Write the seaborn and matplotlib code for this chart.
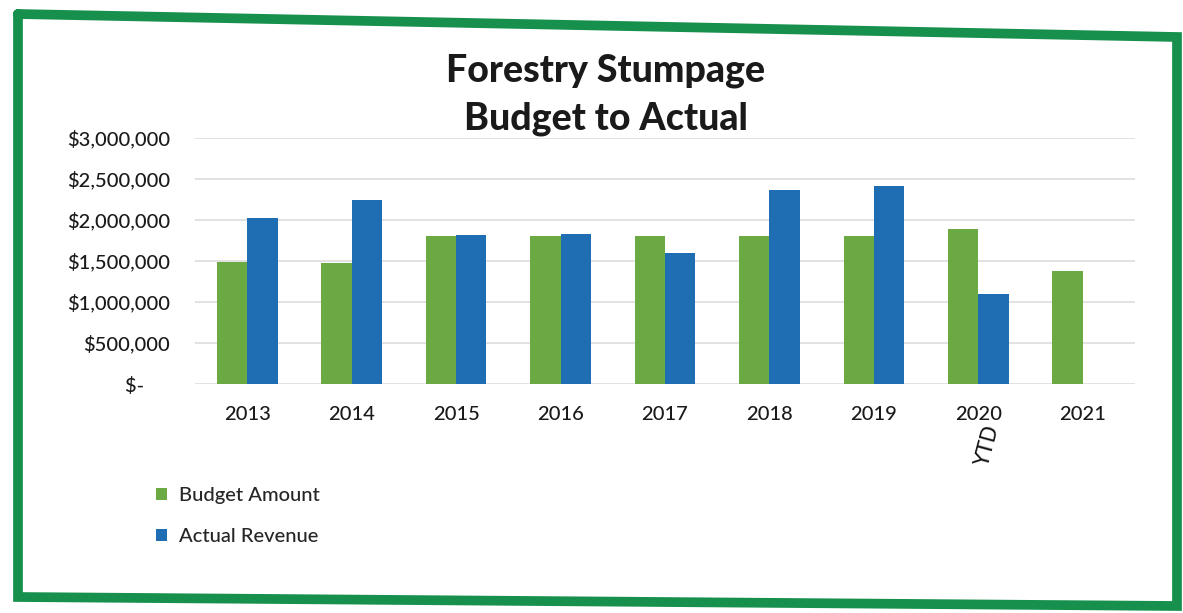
import matplotlib
matplotlib.use("Agg")
import matplotlib.pyplot as plt
from matplotlib.lines import Line2D
from matplotlib.patches import Patch
from matplotlib.ticker import FuncFormatter
import numpy as np
import pandas as pd
import seaborn as sns

# Forestry stumpage revenue, budget vs. actual (dollars)
years = ["2013", "2014", "2015", "2016", "2017", "2018", "2019", "2020", "2021"]
budget_amount = [1490000, 1470000, 1810000, 1810000, 1810000, 1810000, 1810000, 1890000, 1380000]
actual_revenue = [2020000, 2240000, 1820000, 1830000, 1600000, 2370000, 2410000, 1100000, np.nan]
series_names = ["Budget Amount", "Actual Revenue"]

GREEN = "#6BAA42"
BLUE = "#1F6EB4"
FRAME = "#16904C"

df = pd.DataFrame({
    "Year": years * 2,
    "Series": [series_names[0]] * len(years) + [series_names[1]] * len(years),
    "Amount": budget_amount + actual_revenue,
})

sns.set_theme(style="white")
plt.rcParams["font.family"] = ["Lato", "DejaVu Sans"]

W, H = 1183, 613
fig = plt.figure(figsize=(W / 100, H / 100), dpi=100)
fig.patch.set_facecolor("white")

ax = fig.add_axes([195 / W, 1 - 384 / H, (1135 - 195) / W, (384 - 138) / H])
sns.barplot(data=df, x="Year", y="Amount", hue="Series", order=years,
            hue_order=series_names, palette=[GREEN, BLUE], width=0.58,
            saturation=1, linewidth=0, legend=False, ax=ax, zorder=3)

ax.set_ylim(0, 3000000)
ax.set_xlim(-0.5, len(years) - 0.5)
ax.set_yticks(np.arange(0, 3000001, 500000))
ax.yaxis.set_major_formatter(FuncFormatter(
    lambda v, _: "$-     " if v == 0 else f"${v:,.0f}"))
ax.grid(axis="y", color="#DADADA", linewidth=1.1, zorder=0)
ax.grid(axis="x", visible=False)
for s in ax.spines.values():
    s.set_visible(False)
ax.tick_params(axis="both", length=0, labelsize=14.5, colors="#1a1a1a")
ax.tick_params(axis="y", pad=18)
ax.tick_params(axis="x", pad=16)
for lab in ax.get_xticklabels() + ax.get_yticklabels():
    lab.set_fontweight("medium")
ax.set_xlabel("")
ax.set_ylabel("")

# Title
title_kw = dict(ha="center", va="baseline", fontsize=27, fontweight="black",
                color="#1a1a1a")
fig.text(606 / W, 1 - 81 / H, "Forestry Stumpage", **title_kw)
fig.text(606 / W, 1 - 130 / H, "Budget to Actual", **title_kw)

# Legend below the plot area
handles = [Patch(facecolor=GREEN, edgecolor="none"),
           Patch(facecolor=BLUE, edgecolor="none")]
leg = fig.legend(handles, series_names, loc="upper left",
                 bbox_to_anchor=(138 / W, 1 - 469 / H), frameon=False,
                 fontsize=14.5, handlelength=0.55, handleheight=0.55,
                 handletextpad=0.6, labelspacing=1.2)
for t in leg.get_texts():
    t.set_fontweight("medium")

# Handwritten note under 2020
fig.text(988 / W, 1 - 446 / H, "YTD", rotation=75, ha="center", va="center",
         fontsize=15, color="#111111", family="DejaVu Sans")

# Green frame around the chart
frame_x = [18, 1177, 1177, 18, 18]
frame_y = [14, 37, 606, 597, 14]
fig.add_artist(Line2D([x / W for x in frame_x], [1 - y / H for y in frame_y],
                      color=FRAME, linewidth=7, solid_joinstyle="miter",
                      transform=fig.transFigure))

fig.savefig("out.png", dpi=100, facecolor="white")
